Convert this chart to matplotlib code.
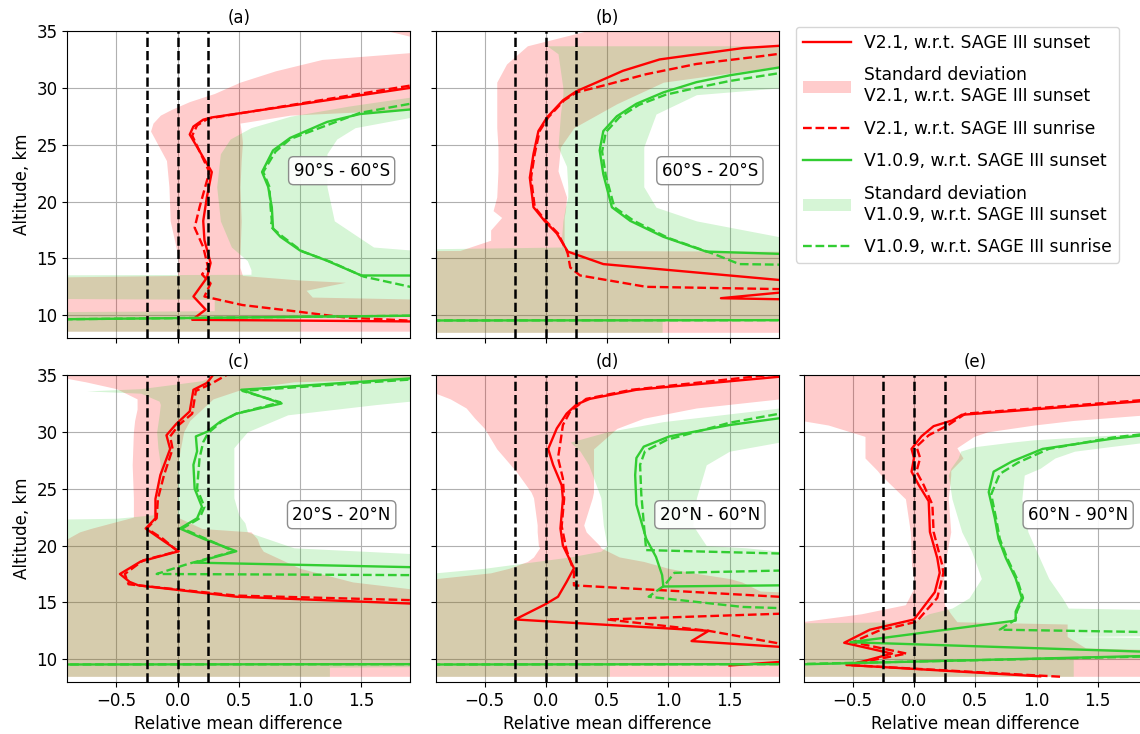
import numpy as np
import matplotlib.pyplot as plt
from matplotlib.patches import Patch
from matplotlib.lines import Line2D

plt.rcParams['font.size'] = 12

tags = ['(a)', '(b)', '(c)', '(d)', '(e)']
regions = ['90°S - 60°S', '60°S - 20°S', '20°S - 20°N', '20°N - 60°N', '60°N - 90°N']
labels = ['V2.1, w.r.t. SAGE III sunset',
          'Standard deviation\nV2.1, w.r.t. SAGE III sunset',
          'V2.1, w.r.t. SAGE III sunrise',
          'V1.0.9, w.r.t. SAGE III sunset',
          'Standard deviation\nV1.0.9, w.r.t. SAGE III sunset',
          'V1.0.9, w.r.t. SAGE III sunrise']

# ---------------- (a) 90S - 60S ----------------
a_ss21_alt = [31.0, 30.0, 27.4, 27.2, 26.6, 25.9, 22.6, 20.4, 18.3, 16.6, 14.6, 13.3, 11.65, 10.5, 9.6, 8.0]
a_ss21 = [2.5, 1.9, 0.28, 0.21, 0.13, 0.10, 0.28, 0.24, 0.21, 0.22, 0.27, 0.24, 0.13, 0.23, 0.12, 20.0]
a_sr21_alt = [31.0, 30.2, 27.3, 26.7, 25.8, 22.6, 19.5, 17.7, 16.0, 14.2, 13.6, 12.8, 11.65, 10.9, 10.35, 9.8, 9.5, 9.3]
a_sr21 = [2.4, 1.9, 0.25, 0.16, 0.12, 0.26, 0.18, 0.14, 0.21, 0.25, 0.20, 0.27, 0.22, 0.53, 0.96, 1.37, 1.95, 4.0]
a_ss109_alt = [29.0, 28.1, 27.7, 27.0, 25.6, 24.5, 22.6, 21.3, 19.5, 17.6, 16.9, 15.7, 14.8, 13.5, 13.45, 10.3, 9.2]
a_ss109 = [2.5, 1.9, 1.49, 1.22, 0.92, 0.78, 0.69, 0.74, 0.77, 0.78, 0.84, 1.0, 1.22, 1.5, 5.0, 5.0, -5.0]
a_sr109_alt = [29.5, 28.6, 27.8, 25.5, 24.4, 22.6, 21.3, 19.5, 18.3, 17.8, 16.9, 15.6, 14.7, 13.4, 12.5, 11.5, 10.3, 9.2]
a_sr109 = [2.5, 1.9, 1.49, 0.92, 0.80, 0.70, 0.75, 0.76, 0.77, 0.76, 0.86, 1.02, 1.25, 1.52, 1.9, 2.5, 5.0, -5.0]
a_sd21_alt = [35.0, 34.4, 33.8, 33.1, 32.5, 31.5, 30.5, 29.5, 28.8, 28.1, 27.6, 26.9, 26.2, 25.2, 23.6, 21.3, 18.3,
              15.4, 14.2, 13.5, 13.1, 12.9, 12.2, 11.6, 11.0, 8.6]
a_sd21_lo = [1.72, 1.95, 2.3, 1.9, 1.18, 0.8, 0.51, 0.3, 0.10, -0.05, -0.14, -0.2, -0.22, -0.17, -0.09, -0.07, -0.06,
             0.0, 0.01, 0.0, -3, -3, -3, -3, -3, -3]
a_sd21_hi = [4, 4, 4, 4, 4, 4, 4, 3.5, 2.5, 1.91, 0.92, 0.51, 0.52, 0.53, 0.52, 0.51, 0.52,
             0.51, 0.51, 0.53, 1.0, 1.37, 1.05, 1.1, 4, 4]
a_sd109_alt = [30.5, 29.2, 28.4, 27.5, 26.5, 25.5, 24.2, 21.3, 18.3, 16.0, 14.8, 14.0, 13.6, 13.5, 11.6, 11.4,
               10.4, 10.2, 9.9, 8.6]
a_sd109_lo = [3, 1.91, 1.4, 0.92, 0.6, 0.43, 0.35, 0.32, 0.35, 0.44, 0.57, 0.6, 0.6, -3, -3, 0.3,
              0.3, -3, -3, -3]
a_sd109_hi = [4, 4, 3, 1.95, 1.45, 1.3, 1.22, 1.22, 1.28, 1.6, 3, 4, 4, 4, 4, 4,
              4, 4, 1.0, 1.0]

# ---------------- (b) 60S - 20S ----------------
b_ss21_alt = [34.0, 33.7, 33.5, 32.5, 31.5, 30.5, 29.7, 28.9, 27.4, 26.2, 24.2, 22.1, 20.4, 19.5, 18.3, 17.2,
              15.6, 14.5, 13.1, 12.6, 11.5, 11.2]
b_ss21 = [2.6, 1.91, 1.61, 0.93, 0.63, 0.42, 0.25, 0.14, 0.01, -0.06, -0.10, -0.13, -0.11, -0.10, -0.01, 0.09,
          0.18, 0.47, 1.91, 2.5, 1.43, 3.0]
b_sr21_alt = [33.3, 33.0, 32.8, 32.1, 31.2, 30.2, 29.6, 28.9, 27.4, 26.2, 24.2, 22.1, 20.4, 19.5, 18.3, 17.2,
              15.7, 15.4, 14.2, 13.5, 12.5, 12.3, 12.2]
b_sr21 = [2.6, 1.91, 1.77, 1.23, 0.82, 0.47, 0.25, 0.15, 0.02, -0.05, -0.09, -0.12, -0.10, -0.09, 0.0, 0.10,
          0.17, 0.18, 0.20, 0.28, 0.82, 1.91, 3.0]
b_ss109_alt = [32.3, 31.8, 31.1, 30.5, 29.6, 28.6, 27.5, 26.2, 24.5, 22.4, 19.5, 18.3, 16.9, 15.6, 15.4, 15.35,
               9.6, 9.5]
b_ss109 = [2.6, 1.91, 1.5, 1.23, 0.96, 0.74, 0.58, 0.47, 0.44, 0.47, 0.54, 0.69, 0.96, 1.31, 1.91, 5.0,
           5.0, -5.0]
b_sr109_alt = [31.8, 31.3, 30.6, 30.0, 29.4, 28.5, 27.4, 26.1, 24.4, 22.3, 19.5, 18.3, 16.8, 15.4, 14.5, 14.45,
               14.4, 9.6, 9.5]
b_sr109 = [2.6, 1.91, 1.5, 1.23, 0.98, 0.76, 0.60, 0.49, 0.46, 0.49, 0.56, 0.72, 1.0, 1.37, 1.58, 1.91,
           5.0, 5.0, -5.0]
b_sd21_alt = [35.0, 33.7, 32.1, 31.9, 30.5, 28.6, 26.5, 24.8, 22.7, 20.4, 19.2, 18.6, 17.5, 16.6, 15.7, 15.55, 8.5]
b_sd21_lo = [0.33, -0.15, -0.32, -0.33, -0.40, -0.40, -0.40, -0.39, -0.39, -0.40, -0.43, -0.36, -0.45, -0.45,
             -0.70, -3, -3]
b_sd21_hi = [4, 4, 4, 1.91, 0.96, 0.58, 0.23, 0.12, 0.10, 0.17, 0.16, 0.15, 0.15, 0.15, 0.15, 4, 4]
b_sd109_alt = [33.7, 33.0, 30.0, 29.4, 27.7, 24.8, 23.1, 21.3, 20.4, 19.5, 18.3, 16.9, 16.0, 15.55, 9.8, 9.6, 8.5]
b_sd109_lo = [0.01, 0.10, 0.14, 0.14, 0.12, 0.10, 0.17, 0.18, 0.18, 0.16, 0.14, 0.13, 0.13, -3, -3, -3, -3]
b_sd109_hi = [4, 4, 1.91, 1.23, 0.9, 0.8, 0.8, 0.8, 0.85, 0.9, 1.23, 1.91, 4, 4, 4, 0.95, 0.95]

# ---------------- (c) 20S - 20N ----------------
c_ss21_alt = [35.3, 35.0, 34.3, 33.7, 31.8, 30.7, 29.7, 28.5, 26.2, 24.1, 22.4, 21.5, 20.6, 19.5, 18.6, 17.5,
              16.8, 16.5, 15.5, 14.9, 14.5]
c_ss21 = [0.35, 0.29, 0.24, 0.13, 0.10, -0.01, -0.09, -0.06, -0.14, -0.18, -0.18, -0.26, -0.14, 0.01, -0.30, -0.47,
          -0.39, -0.32, 0.48, 1.9, 3.0]
c_sr21_alt = [35.3, 35.0, 34.2, 33.6, 31.6, 30.6, 29.6, 28.5, 26.2, 24.1, 22.4, 21.5, 20.6, 19.5, 18.7, 17.5,
              16.6, 16.5, 15.6, 15.2, 14.9]
c_sr21 = [0.45, 0.40, 0.27, 0.15, 0.12, 0.01, -0.06, -0.04, -0.11, -0.16, -0.17, -0.25, -0.12, 0.0, -0.28, -0.43,
          -0.40, -0.32, 0.48, 1.9, 3.0]
c_ss109_alt = [34.8, 34.7, 33.7, 32.5, 31.6, 30.9, 30.0, 29.6, 28.3, 27.1, 25.0, 23.4, 22.4, 21.5, 20.6, 19.5,
               18.5, 18.1, 18.0, 9.6, 9.5]
c_ss109 = [2.6, 1.9, 0.52, 0.85, 0.48, 0.35, 0.24, 0.15, 0.16, 0.13, 0.14, 0.20, 0.16, 0.02, 0.21, 0.48,
           0.14, 1.9, 5.0, 5.0, -5.0]
c_sr109_alt = [34.7, 34.6, 33.6, 32.6, 31.6, 30.9, 29.9, 29.1, 27.7, 25.0, 23.4, 22.4, 21.5, 20.6, 19.5, 18.6,
               18.4, 17.5, 17.4, 17.35, 9.6, 9.5]
c_sr109 = [2.6, 1.9, 0.53, 0.84, 0.48, 0.36, 0.25, 0.21, 0.18, 0.16, 0.22, 0.18, 0.04, 0.23, 0.46, 0.16,
           0.09, -0.17, 1.9, 5.0, 5.0, -5.0]
c_sd21_alt = [35.0, 34.7, 34.4, 33.8, 32.9, 32.0, 31.0, 30.0, 27.1, 24.2, 22.5, 21.5, 21.2, 20.6, 20.0, 19.5,
              18.0, 16.8, 16.2, 15.5, 8.5]
c_sd21_lo = [-3, -0.9, -0.75, -0.5, -0.33, -0.33, -0.35, -0.36, -0.37, -0.36, -0.36, -0.71, -0.8, -0.9, -3, -3,
             -3, -3, -3, -3, -3]
c_sd21_hi = [4, 1.9, 0.95, 0.54, 0.29, 0.2, 0.1, 0.05, 0.0, 0.0, 0.0, 0.2, 0.6, 0.65, 0.67, 0.7,
             1.0, 1.43, 1.9, 4, 4]
c_sd109_alt = [35.0, 34.5, 33.8, 33.6, 33.4, 32.7, 32.4, 31.5, 30.0, 28.6, 27.1, 24.2, 22.7, 22.4, 22.0, 21.2,
               19.8, 19.3, 19.0, 9.5, 9.3, 8.5]
c_sd109_lo = [0.3, 0.2, -0.3, -0.74, -0.3, -0.15, -0.14, -0.15, -0.17, -0.16, -0.14, -0.17, -0.2, -0.5, -3, -3,
              -3, -3, -3, -3, -3, -3]
c_sd109_hi = [4, 4, 4, 4, 4, 1.9, 1.62, 0.9, 0.57, 0.46, 0.46, 0.46, 0.5, 0.52, 0.55, 0.57,
              0.95, 1.9, 4, 4, 1.24, 1.24]

# ---------------- (d) 20N - 60N ----------------
d_ss21_alt = [35.2, 34.85, 33.7, 32.9, 32.4, 31.6, 30.3, 28.5, 27.1, 25.3, 24.1, 21.5, 20.0, 18.0, 16.8, 15.5,
              14.8, 13.5, 12.5, 11.6, 11.1, 10.6, 9.45]
d_ss21 = [2.6, 1.91, 0.74, 0.36, 0.25, 0.17, 0.09, 0.02, 0.06, 0.13, 0.14, 0.12, 0.14, 0.23, 0.17, 0.10,
          -0.01, -0.25, 1.33, 1.19, 1.9, 3.0, 1.5]
d_sr21_alt = [35.5, 35.1, 33.7, 32.9, 31.8, 30.6, 29.1, 27.7, 25.9, 24.1, 21.7, 19.6, 17.7, 16.5, 15.5, 15.4,
              14.0, 13.5, 12.5, 11.4, 11.0]
d_sr21 = [2.6, 1.91, 0.70, 0.33, 0.20, 0.14, 0.12, 0.10, 0.14, 0.15, 0.13, 0.17, 0.23, 0.23, 1.9, 3.0,
          1.9, 0.50, 1.33, 1.9, 2.5]
d_ss109_alt = [31.7, 31.2, 30.6, 29.6, 28.7, 27.7, 26.2, 23.6, 20.6, 19.0, 17.4, 16.4, 16.5, 16.45, 9.6, 9.5]
d_ss109 = [2.6, 1.91, 1.5, 1.01, 0.80, 0.74, 0.73, 0.74, 0.82, 0.90, 0.95, 0.96, 1.91, 5.0, 5.0, -5.0]
d_sr109_alt = [32.1, 31.6, 30.8, 29.3, 28.3, 27.1, 24.5, 22.0, 19.6, 19.3, 19.2, 17.9, 17.8, 17.6, 16.5, 15.5,
               14.6, 14.5, 14.45, 9.6, 9.5]
d_sr109 = [2.6, 1.91, 1.5, 0.99, 0.81, 0.77, 0.78, 0.80, 0.82, 1.91, 3.0, 3.0, 1.91, 1.05, 0.97, 0.84,
           1.61, 1.91, 5.0, 5.0, -5.0]
d_sd21_alt = [35.0, 33.5, 33.4, 32.9, 32.1, 31.2, 30.3, 28.5, 26.5, 24.7, 24.2, 21.8, 21.2, 20.0, 19.8, 19.0,
              18.6, 18.0, 17.6, 17.1, 16.8, 16.0, 15.0, 8.5]
d_sd21_lo = [-3, -3, -0.9, -0.78, -0.65, -0.58, -0.50, -0.40, -0.24, -0.12, -0.10, -0.07, -0.07, -0.06, -0.05, -0.1,
             -0.15, -0.3, -0.45, -0.89, -3, -3, -3, -3]
d_sd21_hi = [4, 4, 4, 1.91, 1.23, 0.8, 0.58, 0.39, 0.39, 0.39, 0.38, 0.31, 0.33, 0.44, 0.45, 0.6,
             0.8, 1.0, 1.2, 1.5, 1.6, 1.75, 4, 4]
d_sd109_alt = [32.2, 32.1, 30.9, 30.0, 29.1, 28.3, 27.1, 24.2, 21.8, 20.0, 19.8, 19.5, 19.0, 18.0, 17.0, 16.5,
               9.7, 9.6, 8.5]
d_sd109_lo = [4, 1.91, 0.96, 0.5, 0.2, 0.28, 0.35, 0.45, 0.47, 0.5, 0.48, 0.45, 0.2, -0.5, -1.5, -3,
              -3, -3, -3]
d_sd109_hi = [4, 4, 4, 3, 1.91, 1.5, 1.31, 1.23, 1.2, 1.31, 1.64, 1.91, 4, 4, 4, 4,
              4, 0.52, 0.52]

# ---------------- (e) 60N - 90N ----------------
e_ss21_alt = [33.0, 32.7, 31.5, 31.0, 30.5, 29.6, 28.5, 27.7, 26.5, 25.3, 23.9, 21.2, 18.9, 17.6, 15.9, 13.5,
              12.6, 11.45, 10.5, 9.8, 9.5, 8.5]
e_ss21 = [2.6, 1.87, 0.39, 0.31, 0.16, 0.06, -0.02, 0.0, -0.02, 0.04, 0.12, 0.13, 0.19, 0.21, 0.17, 0.0,
          -0.36, -0.57, -0.18, -0.42, -0.55, 1.03]
e_sr21_alt = [33.1, 32.8, 31.6, 30.6, 29.7, 28.7, 27.7, 26.5, 25.3, 23.6, 21.2, 18.3, 17.6, 15.4, 13.3, 12.5,
              11.5, 10.5, 9.8, 9.5, 8.45]
e_sr21 = [2.6, 1.87, 0.42, 0.28, 0.12, 0.02, 0.05, 0.02, 0.08, 0.15, 0.16, 0.23, 0.24, 0.19, 0.02, -0.29,
          -0.50, -0.06, -0.40, -0.55, 1.22]
e_ss109_alt = [30.0, 29.7, 29.4, 28.5, 27.4, 26.5, 24.7, 22.4, 20.6, 18.9, 17.1, 15.4, 14.2, 13.4, 11.5, 10.45, 9.4]
e_ss109 = [2.6, 1.87, 1.62, 1.05, 0.80, 0.65, 0.61, 0.66, 0.69, 0.75, 0.83, 0.88, 0.83, 0.83, -0.52, 2.5, -1.5]
e_sr109_alt = [30.1, 29.8, 29.5, 28.5, 27.3, 26.3, 24.5, 22.4, 20.6, 18.9, 17.1, 15.4, 14.2, 13.5, 12.6, 12.4,
               12.35, 10.5, 9.45]
e_sr109 = [2.6, 1.87, 1.62, 1.10, 0.85, 0.70, 0.63, 0.67, 0.70, 0.76, 0.84, 0.89, 0.84, 0.83, 0.70, 1.87,
           5.0, 3.0, -1.5]
e_sd21_alt = [35.0, 32.0, 31.5, 31.0, 30.6, 30.0, 29.6, 28.6, 27.7, 26.6, 26.2, 24.1, 21.2, 18.3, 16.5, 14.8,
              14.0, 13.3, 13.1, 12.0, 11.0, 10.3, 8.5]
e_sd21_lo = [-3, -3, -3, -0.92, -0.7, -0.52, -0.40, -0.40, -0.40, -0.30, -0.27, -0.07, -0.03, -0.02, 0.01, -0.07,
             -0.43, -0.92, -3, -3, -3, -3, -3]
e_sd21_hi = [4, 4, 1.9, 1.3, 0.98, 0.6, 0.49, 0.35, 0.40, 0.30, 0.30, 0.28, 0.30, 0.25, 0.24, 0.25,
             0.30, 0.35, 1.25, 1.25, 1.4, 4, 4]
e_sd109_alt = [30.5, 29.9, 29.3, 29.1, 28.7, 28.3, 27.7, 26.8, 26.2, 24.1, 21.2, 19.5, 17.1, 15.4, 14.5, 14.0,
               13.3, 13.0, 12.3, 12.0, 11.6, 10.4, 10.0, 8.5]
e_sd109_lo = [4, 1.9, 0.98, 0.8, 0.5, 0.38, 0.36, 0.30, 0.28, 0.31, 0.39, 0.47, 0.55, 0.45, 0.31, 0.12,
              0.0, -3, -3, -3, -3, -3, -3, -3]
e_sd109_hi = [4, 4, 4, 1.9, 1.6, 1.31, 1.15, 1.03, 0.9, 0.88, 0.93, 1.0, 1.1, 1.21, 1.26, 4,
              4, 4, 4, 1.3, 4, 4, 1.3, 1.3]

panels = [
    (a_ss21_alt, a_ss21, a_sr21_alt, a_sr21, a_ss109_alt, a_ss109, a_sr109_alt, a_sr109,
     a_sd21_alt, a_sd21_lo, a_sd21_hi, a_sd109_alt, a_sd109_lo, a_sd109_hi),
    (b_ss21_alt, b_ss21, b_sr21_alt, b_sr21, b_ss109_alt, b_ss109, b_sr109_alt, b_sr109,
     b_sd21_alt, b_sd21_lo, b_sd21_hi, b_sd109_alt, b_sd109_lo, b_sd109_hi),
    (c_ss21_alt, c_ss21, c_sr21_alt, c_sr21, c_ss109_alt, c_ss109, c_sr109_alt, c_sr109,
     c_sd21_alt, c_sd21_lo, c_sd21_hi, c_sd109_alt, c_sd109_lo, c_sd109_hi),
    (d_ss21_alt, d_ss21, d_sr21_alt, d_sr21, d_ss109_alt, d_ss109, d_sr109_alt, d_sr109,
     d_sd21_alt, d_sd21_lo, d_sd21_hi, d_sd109_alt, d_sd109_lo, d_sd109_hi),
    (e_ss21_alt, e_ss21, e_sr21_alt, e_sr21, e_ss109_alt, e_ss109, e_sr109_alt, e_sr109,
     e_sd21_alt, e_sd21_lo, e_sd21_hi, e_sd109_alt, e_sd109_lo, e_sd109_hi),
]

RED = 'red'
GREEN = 'limegreen'
LW = 1.7

W, H = 1140, 734
fig = plt.figure(figsize=(W / 100, H / 100), dpi=100)
lefts = [67.25, 435.5, 803.75]
tops = [31, 375]
aw, ah = 343, 307
grid_pos = [(0, 0), (0, 1), (1, 0), (1, 1), (1, 2)]

for i, (row, col) in enumerate(grid_pos):
    ax = fig.add_axes([lefts[col] / W, 1 - (tops[row] + ah) / H, aw / W, ah / H])
    (ss21_alt, ss21, sr21_alt, sr21, ss109_alt, ss109, sr109_alt, sr109,
     sd21_alt, sd21_lo, sd21_hi, sd109_alt, sd109_lo, sd109_hi) = panels[i]

    ax.fill_betweenx(sd21_alt, sd21_lo, sd21_hi, color=RED, alpha=0.2, lw=0)
    ax.fill_betweenx(sd109_alt, sd109_lo, sd109_hi, color=GREEN, alpha=0.2, lw=0)
    ax.plot(ss21, ss21_alt, color=RED, lw=LW)
    ax.plot(sr21, sr21_alt, color=RED, lw=LW, ls='--')
    ax.plot(ss109, ss109_alt, color=GREEN, lw=LW)
    ax.plot(sr109, sr109_alt, color=GREEN, lw=LW, ls='--')
    for v in (-0.25, 0.0, 0.25):
        ax.axvline(v, color='k', ls='--', lw=1.8)

    ax.set_xlim(-0.9, 1.9)
    ax.set_ylim(8, 35)
    ax.set_xticks([-0.5, 0.0, 0.5, 1.0, 1.5])
    ax.set_yticks([10, 15, 20, 25, 30, 35])
    ax.set_axisbelow(True)
    ax.grid(True, color='#b0b0b0', lw=0.8)
    ax.set_title(tags[i], fontsize=12)
    ax.text(0.8, 0.545, regions[i], transform=ax.transAxes, ha='center', va='center',
            fontsize=12, bbox=dict(boxstyle='round,pad=0.3', fc='white', ec='gray', alpha=0.9))
    if row == 0:
        ax.tick_params(labelbottom=False)
    else:
        ax.set_xlabel('Relative mean difference')
    if col == 0:
        ax.set_ylabel('Altitude, km')
    else:
        ax.tick_params(labelleft=False)

handles = [Line2D([], [], color=RED, lw=LW),
           Patch(facecolor=RED, alpha=0.2, lw=0),
           Line2D([], [], color=RED, lw=LW, ls='--'),
           Line2D([], [], color=GREEN, lw=LW),
           Patch(facecolor=GREEN, alpha=0.2, lw=0),
           Line2D([], [], color=GREEN, lw=LW, ls='--')]
fig.legend(handles, labels, loc='upper left', bbox_to_anchor=(796 / W, 1 - 27 / H),
           fontsize=12.3, handlelength=2.8, labelspacing=0.85, borderaxespad=0)

fig.savefig('out.png', dpi=100)
